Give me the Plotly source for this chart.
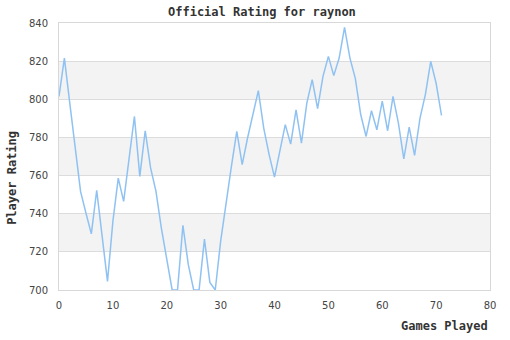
import plotly.graph_objects as go

games = list(range(72))
rating = [801.5, 821.6, 798, 774.4, 751.7, 740.4, 729.4, 752.2, 727, 704.5,
          736, 758.7, 746.5, 767.4, 791, 759.6, 783.5, 764, 751.7, 732.5,
          716, 700, 700, 733.9, 713.3, 700, 700, 726.7, 704, 700,
          725.5, 746.5, 764.8, 783.2, 765.7, 779.7, 791.9, 804.5, 784.9, 771,
          759.2, 772.7, 786.7, 776.5, 794.5, 777, 798, 810.3, 795.1, 812,
          822.5, 812.4, 821.6, 837.7, 821.6, 811, 792, 780.5, 794, 784,
          799, 783.5, 801.5, 787.5, 768.8, 785.4, 770.6, 790, 802.4, 819.9,
          808.4, 791.5]
x_ticks = [0, 10, 20, 30, 40, 50, 60, 70, 80]
y_ticks = [700, 720, 740, 760, 780, 800, 820, 840]

title_text = "Official Rating for raynon"
x_title = "Games Played"
y_title = "Player Rating"

fig = go.Figure()
fig.add_trace(go.Scatter(x=games, y=rating, mode="lines",
                         line=dict(color="#8fc2f2", width=1.5),
                         hoverinfo="skip", showlegend=False))

shapes = []
for i in range(len(y_ticks) - 1):
    if i % 2 == 0:
        continue
    shapes.append(dict(type="rect", xref="paper", yref="y", x0=0, x1=1,
                       y0=y_ticks[i], y1=y_ticks[i + 1],
                       fillcolor="#f3f3f3", line=dict(width=0), layer="below"))

mono = "DejaVu Sans Mono"
fig.update_layout(
    width=510, height=340,
    margin=dict(l=59, r=20, t=23, b=50),
    paper_bgcolor="white", plot_bgcolor="white",
    shapes=shapes,
    annotations=[
        dict(text="<b>" + title_text + "</b>", xref="paper", yref="paper",
             x=0.47, y=1.0, yshift=11, showarrow=False, xanchor="center", yanchor="middle",
             font=dict(family=mono, size=12, color="#333")),
        dict(text="<b>" + x_title + "</b>", xref="paper", yref="paper",
             x=1.0, y=0, yshift=-36, showarrow=False, xanchor="right", yanchor="middle",
             font=dict(family=mono, size=12, color="#333")),
        dict(text="<b>" + y_title + "</b>", xref="paper", yref="paper",
             x=0, xshift=-47, y=0.42, showarrow=False, textangle=-90,
             xanchor="center", yanchor="middle",
             font=dict(family=mono, size=12, color="#333")),
    ],
    xaxis=dict(range=[0, 80], tickvals=x_ticks, showgrid=False, zeroline=False,
               showline=True, linecolor="#d8d8d8", linewidth=1, mirror=True,
               ticks="", ticklabelstandoff=6,
               tickfont=dict(family="DejaVu Sans", size=10, color="#444")),
    yaxis=dict(range=[700, 840], tickvals=y_ticks, showgrid=True, gridcolor="#dcdcdc",
               gridwidth=1, zeroline=False,
               showline=True, linecolor="#d8d8d8", linewidth=1, mirror=True,
               ticks="", ticklabelstandoff=8,
               tickfont=dict(family="DejaVu Sans", size=10, color="#444")),
)

fig.write_html("out.html")
